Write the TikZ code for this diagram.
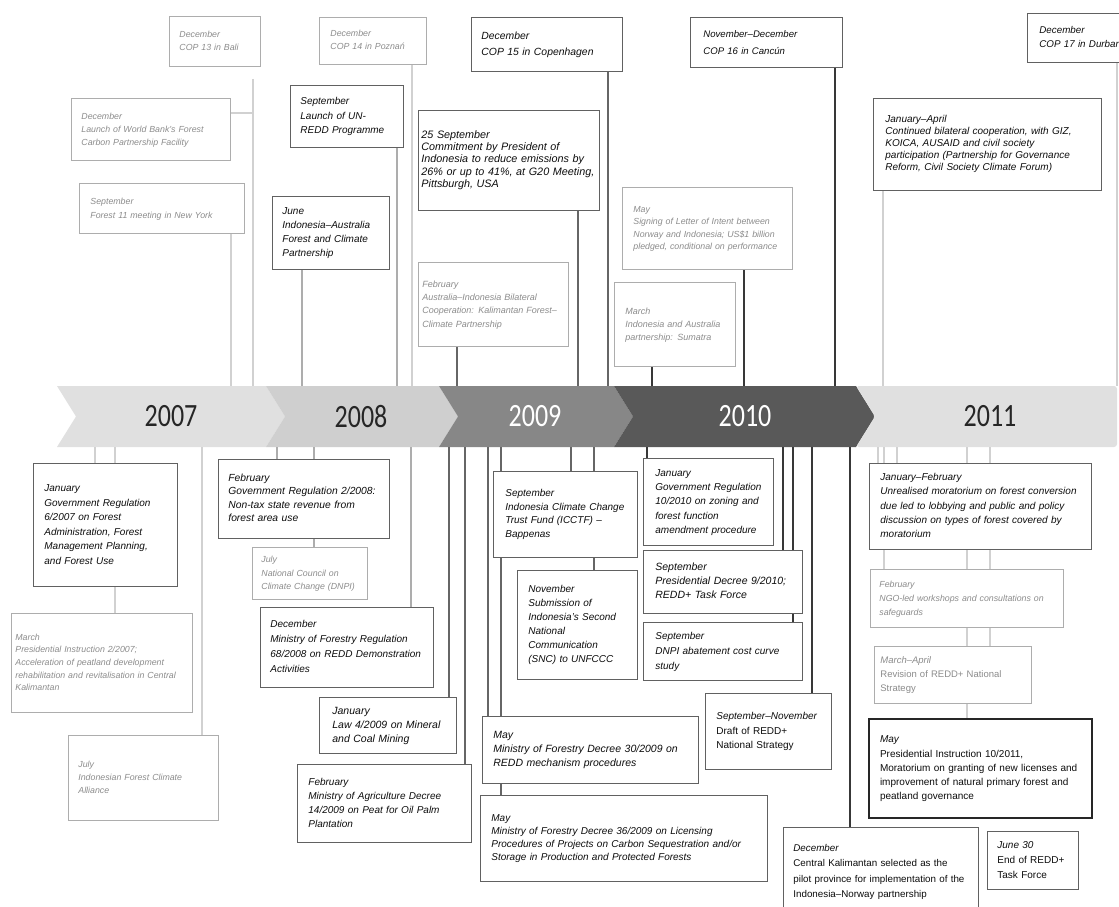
\documentclass[tikz,border=0pt]{standalone}
\usepackage{fontspec}
\setmainfont{Liberation Sans}
\newfontfamily\yearfont{Carlito}
\usetikzlibrary{calc}
\pgfdeclarelayer{bg}
\pgfsetlayers{bg,main}
\newcommand\lns[1]{\begin{tabular}{@{}l@{}}#1\end{tabular}}
\newcommand\ebox[8]{%
  \pgfmathsetmacro\ebw{#4-#2}%
  \pgfmathsetmacro\ebh{#5-#3}%
  \pgfmathsetmacro\ebt{#4-#2-2*#6}%
  \node[#7, anchor=north west, inner xsep=#6pt, inner ysep=2pt,
        minimum width=\ebw pt, minimum height=\ebh pt, text width=\ebt pt] (#1) at (#2,-#3) {\lns{#8}};}
\newcommand\lnup[4][0]{\path ([xshift=#3pt,yshift=-#1pt]#2.south west) coordinate (lnp); \draw[#4] (lnp) -- (lnp |- bt);}
\newcommand\lndown[3]{\path ([xshift=#2pt]#1.north west) coordinate (lnp); \draw[#3] (lnp |- bb) -- (lnp);}
\tikzset{
  bk/.style={draw=black!62, line width=0.8pt, fill=white, text=black!95, align=left},
  fd/.style={draw=black!32, line width=0.8pt, fill=white, text=black!45, align=left},
  heavy/.style={draw=black!85, line width=2pt},
  fs/.style n args={2}{font=\fontsize{#1}{#2}\selectfont\itshape},
  l07/.style={draw=black!18, line width=1.6pt},
  l08/.style={draw=black!32, line width=1.6pt},
  l09/.style={draw=black!60, line width=1.7pt},
  l10/.style={draw=black!78, line width=1.7pt},
  yr/.style={font=\yearfont\fontsize{26}{26}\selectfont, inner sep=0pt},
}
\begin{document}
\begin{tikzpicture}[x=1pt,y=1pt]
\useasboundingbox (0,0) rectangle (1119,-907);
\clip (0,0) rectangle (1119,-907);
\coordinate (bt) at (0,-386);
\coordinate (bb) at (0,-447);
% ---------- top boxes ----------
\ebox{cop13}{169}{16}{260}{66}{10}{fd,fs={8.8}{13}}{December\\COP 13 in Bali}
\ebox{wbank}{71}{98}{230}{160}{10}{fd,fs={8.8}{13}}{December\\Launch of World Bank's Forest\\Carbon Partnership Facility}
\ebox{forest11}{79}{183}{244}{233}{11}{fd,fs={8.8}{14}}{September\\Forest 11 meeting in New York}
\ebox{june08}{272}{196}{389}{269}{10}{bk,fs={10}{14}}{June\\Indonesia–Australia\\Forest and Climate\\Partnership}
\ebox{unredd}{290}{85}{403}{147}{10}{bk,fs={10}{14.5}}{September\\Launch of UN-\\REDD Programme}
\ebox{cop14}{319}{17}{426}{64}{11}{fd,fs={8.8}{13}}{December\\COP 14 in Poznań}
\ebox{cop15}{471}{17}{622}{71}{10}{bk,fs={10.4}{16.5}}{December\\COP 15 in Copenhagen}
\ebox{sep25}{418}{110}{599}{210}{3}{bk,fs={10.8}{12.3}}{25 September\\Commitment by President of\\Indonesia to reduce emissions by\\26\% or up to 41\%, at G20 Meeting,\\Pittsburgh, USA}
\ebox{feb09aus}{418}{262}{568}{346}{4}{fd,fs={9}{13.3}}{February\\Australia–Indonesia Bilateral\\Cooperation: Kalimantan Forest–\\Climate Partnership}
\ebox{cop16}{690}{17}{842}{67}{13}{bk,fs={9.6}{17}}{November–December\\COP 16 in Cancún}
\ebox{may10loi}{622}{187}{792}{269}{11}{fd,fs={8.8}{12.3}}{May\\Signing of Letter of Intent between\\Norway and Indonesia; US\$1 billion\\pledged, conditional on performance}
\ebox{mar10}{614}{282}{735}{366}{11}{fd,fs={9}{13}}{March\\Indonesia and Australia\\partnership: Sumatra}
\ebox{cop17}{1027}{13}{1135}{62}{12}{bk,fs={9.8}{14}}{December\\COP 17 in Durban}
\ebox{janapr11}{873}{98}{1101}{190}{12}{bk,fs={10}{12}}{January–April\\Continued bilateral cooperation, with GIZ,\\KOICA, AUSAID and civil society\\participation (Partnership for Governance\\Reform, Civil Society Climate Forum)}
% ---------- bottom boxes ----------
\ebox{jan07}{33}{463}{177}{586}{11}{bk,fs={10}{14.5}}{January\\Government Regulation\\6/2007 on Forest\\Administration, Forest\\Management Planning,\\and Forest Use}
\ebox{mar07}{11}{613}{192}{712}{4}{fd,fs={8.8}{12.7}}{March\\Presidential Instruction 2/2007;\\Acceleration of peatland development\\rehabilitation and revitalisation in Central\\Kalimantan}
\ebox{jul07}{68}{735}{218}{820}{10}{fd,fs={8.8}{13}}{July\\Indonesian Forest Climate\\Alliance}
\ebox{feb08}{218}{459}{389}{538}{10}{bk,fs={10.3}{13.3}}{February\\Government Regulation 2/2008:\\Non-tax state revenue from\\forest area use}
\ebox{jul08}{252}{547}{367}{599}{9}{fd,fs={8.8}{13.3}}{July\\National Council on\\Climate Change (DNPI)}
\ebox{dec08}{260}{607}{433}{687}{10}{bk,fs={10}{15}}{December\\Ministry of Forestry Regulation\\68/2008 on REDD Demonstration\\Activities}
\ebox{jan09law}{319}{697}{456}{753}{13}{bk,fs={10.5}{14}}{January\\Law 4/2009 on Mineral\\and Coal Mining}
\ebox{feb09moa}{297}{764}{471}{842}{11}{bk,fs={10}{14}}{February\\Ministry of Agriculture Decree\\14/2009 on Peat for Oil Palm\\Plantation}
\ebox{icctf}{493}{471}{637}{557}{12}{bk,fs={10}{13.6}}{September\\Indonesia Climate Change\\Trust Fund (ICCTF) –\\Bappenas}
\ebox{snc}{517}{570}{637}{679}{11}{bk,fs={10}{14}}{November\\Submission of\\Indonesia's Second\\National\\Communication\\(SNC) to UNFCCC}
\ebox{may0930}{482}{716}{698}{783}{11}{bk,fs={10.5}{14}}{May\\Ministry of Forestry Decree 30/2009 on\\REDD mechanism procedures}
\ebox{may0936}{480}{795}{767}{881}{11}{bk,fs={10}{13}}{May\\Ministry of Forestry Decree 36/2009 on Licensing\\Procedures of Projects on Carbon Sequestration and/or\\Storage in Production and Protected Forests}
\ebox{jan10}{643}{458}{773}{545}{12}{bk,fs={10}{14.3}}{January\\Government Regulation\\10/2010 on zoning and\\forest function\\amendment procedure}
\ebox{pd910}{643}{550}{802}{613}{12}{bk,fs={10.5}{13.7}}{September\\Presidential Decree 9/2010;\\REDD+ Task Force}
\ebox{dnpi10}{643}{622}{802}{680}{12}{bk,fs={10}{15}}{September\\DNPI abatement cost curve\\study}
\ebox{sepnov10}{705}{693}{831}{769}{11}{bk,fs={10}{14.5}}{September–November\\\textup{Draft of REDD+}\\\textup{National Strategy}}
\ebox{dec10}{783}{827}{978}{915}{10}{bk,fs={9.8}{15.3}}{December\\\textup{Central Kalimantan selected as the}\\\textup{pilot province for implementation of the}\\\textup{Indonesia–Norway partnership}}
\ebox{jun30}{987}{831}{1078}{889}{10}{bk,fs={10}{15.3}}{June 30\\\textup{End of REDD+}\\\textup{Task Force}}
\ebox{janfeb11}{869}{463}{1091}{549}{11}{bk,fs={10}{14.3}}{January–February\\Unrealised moratorium on forest conversion\\due led to lobbying and public and policy\\discussion on types of forest covered by\\moratorium}
\ebox{ngo11}{870}{569}{1063}{627}{9}{fd,fs={8.8}{14}}{February\\NGO-led workshops and consultations on\\safeguards}
\ebox{marapr11}{874}{646}{1031}{703}{6}{fd,fs={9.5}{14}}{March–April\\\textup{Revision of REDD+ National}\\\textup{Strategy}}
\ebox{may11}{868}{718}{1091}{817}{11}{bk,heavy,fs={10}{14.3}}{May\\\textup{Presidential Instruction 10/2011,}\\\textup{Moratorium on granting of new licenses and}\\\textup{improvement of natural primary forest and}\\\textup{peatland governance}}
% ---------- band and connectors ----------
\begin{pgfonlayer}{bg}
\fill[white] (0,0) rectangle (1119,-907);
\fill[black!12] (57,-386) -- (266,-386) -- (285,-416.5) -- (266,-447) -- (57,-447) -- (76,-416.5) -- cycle;
\fill[black!19] (266,-386) -- (439,-386) -- (458,-416.5) -- (439,-447) -- (266,-447) -- (285,-416.5) -- cycle;
\fill[black!47] (439,-386) -- (614,-386) -- (633,-416.5) -- (614,-447) -- (439,-447) -- (458,-416.5) -- cycle;
\fill[black!65] (614,-386) -- (856,-386) -- (875,-416.5) -- (856,-447) -- (614,-447) -- (633,-416.5) -- cycle;
\fill[black!12, rounded corners=3pt] (856,-386) -- (1117,-386) -- (1117,-447) -- (856,-447) -- (875,-416.5) -- cycle;
\node[yr, text=black!85] (t2007) at (171,-416.5) {\scalebox{1}[1.25]{2007}};
\node[yr, text=black!85] (t2008) at (361,-416.5) {\scalebox{1}[1.25]{2008}};
\node[yr, text=white] (t2009) at (535,-416.5) {\scalebox{1}[1.25]{2009}};
\node[yr, text=white] (t2010) at (745,-416.5) {\scalebox{1}[1.25]{2010}};
\node[yr, text=black!85] (t2011) at (990,-416.5) {\scalebox{1}[1.25]{2011}};
% top connectors
\lnup{forest11}{152}{l07}
\lnup[12]{cop13}{84}{l07}
\path ([yshift=-15pt]wbank.north east) coordinate (wbc);
\draw[l07] (wbc) -- ++(23,0);
\lnup{june08}{30}{l08}
\lnup{unredd}{107}{l08}
\lnup{cop14}{93}{l07}
\lnup{feb09aus}{39}{l09}
\lnup{sep25}{160}{l09}
\lnup{cop15}{137}{l09}
\lnup{mar10}{38}{l10}
\lnup{may10loi}{122}{l10}
\lnup{cop16}{145}{l10}
\lnup{janapr11}{10}{l07}
\lnup{cop17}{90}{l07}
% bottom connectors
\lndown{jan07}{62}{l07}
\lndown{mar07}{104}{l07}
\lndown{jul07}{134}{l07}
\lndown{feb08}{59}{l08}
\lndown{jul08}{62}{l08}
\lndown{dec08}{151}{l08}
\lndown{jan09law}{130}{l09}
\lndown{feb09moa}{168}{l09}
\lndown{may0930}{6}{l09}
\lndown{may0936}{21}{l09}
\lndown{icctf}{78}{l09}
\lndown{snc}{77}{l09}
\lndown{jan10}{4}{l10}
\lndown{pd910}{140}{l10}
\lndown{dnpi10}{150}{l10}
\lndown{sepnov10}{107}{l10}
\lndown{dec10}{67}{l10}
\lndown{janfeb11}{9}{l07}
\lndown{janfeb11}{28}{l07}
\lndown{ngo11}{14}{l07}
\lndown{marapr11}{116}{l07}
\lndown{may11}{99}{l07}
\end{pgfonlayer}
\end{tikzpicture}
\end{document}
